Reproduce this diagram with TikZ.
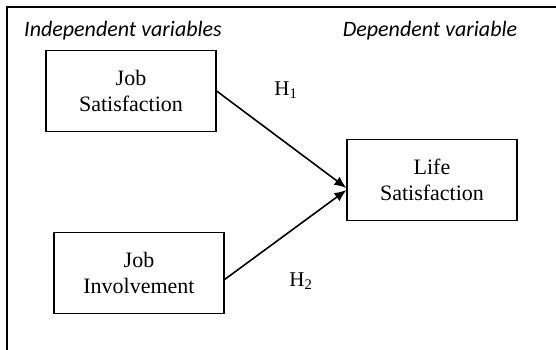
\documentclass[tikz,border=0pt]{standalone}
\usepackage{fontspec}
\setmainfont{Liberation Serif}
\newfontfamily\headfont{Carlito}
\usetikzlibrary{arrows.meta}

\begin{document}
\begin{tikzpicture}[x=1pt,y=-1pt,
      varbox/.style={draw,line width=1.2pt,minimum width=170pt,minimum height=81pt,align=center,font=\fontsize{22}{26}\selectfont},
      head/.style={font=\headfont\itshape\fontsize{22}{26}\selectfont},
      hyp/.style={font=\fontsize{21}{24}\selectfont},
      link/.style={line width=1.6pt,-{Latex[length=12pt,width=10pt]}}]
      \useasboundingbox (0,0) rectangle (556,349);
      \draw[line width=1.4pt] (7,352) -- (7,7) -- (560,7);
      \node[head] (indep) at (123,31) {Independent variables};
      \node[head] (dep) at (430,31) {Dependent variable};
      \node[varbox] (js) at (131,91) {Job\\Satisfaction};
      \node[varbox] (ji) at (139,273) {Job\\Involvement};
      \node[varbox] (ls) at (432,180) {Life\\Satisfaction};
      \draw[link] (js.east) -- ([yshift=-8pt]ls.west);
      \draw[link] ([yshift=-6.5pt]ji.east) -- ([yshift=-10pt]ls.west);
    \node[hyp] (h1) at (286,90) {H\textsubscript{1}};
    \node[hyp] (h2) at (301,281) {H\textsubscript{2}};
\end{tikzpicture}
\end{document}
